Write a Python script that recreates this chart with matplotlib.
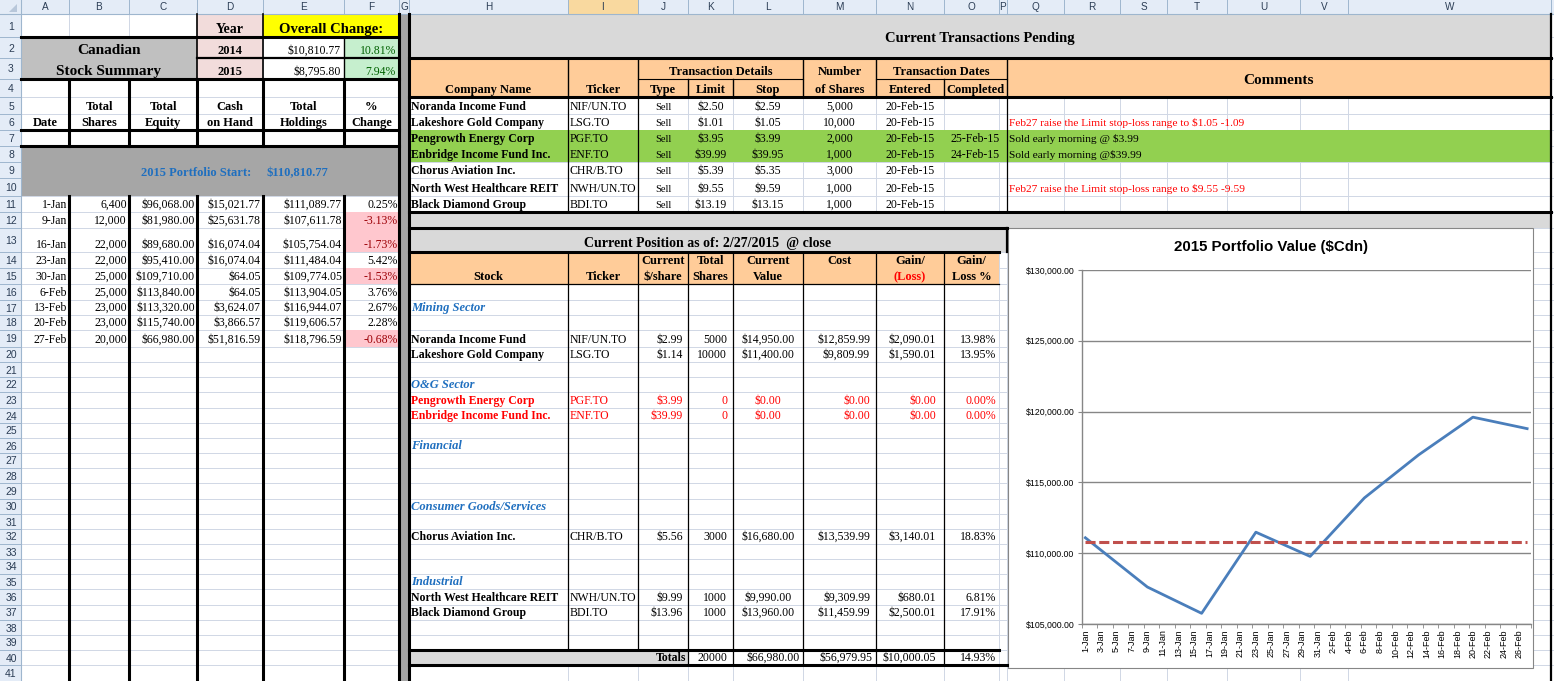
import pandas as pd
import matplotlib
matplotlib.use('Agg')
import matplotlib.pyplot as plt
import matplotlib.dates as mdates
from matplotlib.patches import Rectangle, Polygon
from matplotlib.ticker import MultipleLocator, FuncFormatter

# ---------------------------------------------------------------- data
week_dates = ['2015-01-01', '2015-01-09', '2015-01-16', '2015-01-23', '2015-01-30',
              '2015-02-06', '2015-02-13', '2015-02-20', '2015-02-27']
total_shares = [6400, 12000, 22000, 22000, 25000, 25000, 23000, 23000, 20000]
total_equity = [96068.00, 81980.00, 89680.00, 95410.00, 109710.00,
                113840.00, 113320.00, 115740.00, 66980.00]
cash_on_hand = [15021.77, 25631.78, 16074.04, 16074.04, 64.05,
                64.05, 3624.07, 3866.57, 51816.59]
total_holdings = [111089.77, 107611.78, 105754.04, 111484.04, 109774.05,
                  113904.05, 116944.07, 119606.57, 118796.59]
pct_change = [0.25, -3.13, -1.73, 5.42, -1.53, 3.76, 2.67, 2.28, -0.68]
portfolio_start = 110810.77

years = ['2014', '2015']
year_change = [10810.77, 8795.80]
year_change_pct = [10.81, 7.94]

trx_company = ['Noranda Income Fund', 'Lakeshore Gold Company', 'Pengrowth Energy Corp',
               'Enbridge Income Fund Inc.', 'Chorus Aviation Inc.',
               'North West Healthcare REIT', 'Black Diamond Group']
trx_ticker = ['NIF/UN.TO', 'LSG.TO', 'PGF.TO', 'ENF.TO', 'CHR/B.TO', 'NWH/UN.TO', 'BDI.TO']
trx_type = ['Sell', 'Sell', 'Sell', 'Sell', 'Sell', 'Sell', 'Sell']
trx_limit = [2.50, 1.01, 3.95, 39.99, 5.39, 9.55, 13.19]
trx_stop = [2.59, 1.05, 3.99, 39.95, 5.35, 9.59, 13.15]
trx_shares = [5000, 10000, 2000, 1000, 3000, 1000, 1000]
trx_entered = ['20-Feb-15', '20-Feb-15', '20-Feb-15', '20-Feb-15', '20-Feb-15',
               '20-Feb-15', '20-Feb-15']
trx_completed = ['', '', '25-Feb-15', '24-Feb-15', '', '', '']
trx_comment = ['', 'Feb27 raise the Limit stop-loss range to $1.05 -1.09',
               'Sold early morning @ $3.99', 'Sold early morning @$39.99', '',
               'Feb27 raise the Limit stop-loss range to $9.55 -9.59', '']

sectors = ['Mining Sector', 'O&G Sector', 'Financial', 'Consumer Goods/Services', 'Industrial']
pos_stock = ['Noranda Income Fund', 'Lakeshore Gold Company', 'Pengrowth Energy Corp',
             'Enbridge Income Fund Inc.', 'Chorus Aviation Inc.',
             'North West Healthcare REIT', 'Black Diamond Group']
pos_ticker = ['NIF/UN.TO', 'LSG.TO', 'PGF.TO', 'ENF.TO', 'CHR/B.TO', 'NWH/UN.TO', 'BDI.TO']
pos_price = [2.99, 1.14, 3.99, 39.99, 5.56, 9.99, 13.96]
pos_shares = [5000, 10000, 0, 0, 3000, 1000, 1000]
pos_value = [14950.00, 11400.00, 0.00, 0.00, 16680.00, 9990.00, 13960.00]
pos_cost = [12859.99, 9809.99, 0.00, 0.00, 13539.99, 9309.99, 11459.99]
pos_gain = [2090.01, 1590.01, 0.00, 0.00, 3140.01, 680.01, 2500.01]
pos_gain_pct = [13.98, 13.95, 0.00, 0.00, 18.83, 6.81, 17.91]

# ---------------------------------------------------------------- sheet layout (pixels)
W, H = 1554, 681
col_names = list('ABCDEFGHIJKLMNOPQRSTUVW')
col_x = [21, 69, 129, 197, 263, 344, 399, 409, 568, 638, 688, 733, 803, 876, 944,
         999, 1007, 1064, 1120, 1167, 1227, 1300, 1348, 1551]
row_y = [14, 37, 58, 79, 97, 114, 130, 146, 162, 178, 196, 212, 228, 252, 268, 284,
         300, 315, 330, 347, 362, 377, 392, 408, 423, 438, 453, 468, 483, 499, 514,
         529, 544, 559, 574, 589, 605, 620, 635, 650, 665, 681]
sector_row = [17, 22, 26, 30, 35]
pos_row = [19, 20, 23, 24, 32, 36, 37]

SERIF = 'Liberation Serif'
SANS = 'Liberation Sans'
GRID = '#D0D7E5'
ORANGE = '#FFCC99'
LGRAY = '#D9D9D9'
BLUE = '#1F6FBF'


def left(c):
    return col_x[col_names.index(c)]


def right(c):
    return col_x[col_names.index(c) + 1]


def top(r):
    return row_y[r - 1]


def bottom(r):
    return row_y[r]


def money(v):
    return f'${v:,.2f}'


fig = plt.figure(figsize=(W / 100, H / 100), dpi=100)
ax = fig.add_axes([0, 0, 1, 1])
ax.set_xlim(0, W)
ax.set_ylim(H, 0)
ax.axis('off')


def fill(x0, y0, x1, y1, color, z=2, ec='none'):
    ax.add_patch(Rectangle((x0, y0), x1 - x0, y1 - y0, facecolor=color,
                           edgecolor=ec, lw=0.8, zorder=z))


def hline(y, x0, x1, lw=2.2, color='black', z=4):
    ax.plot([x0, x1], [y, y], color=color, lw=lw, solid_capstyle='projecting', zorder=z)


def vline(x, y0, y1, lw=2.2, color='black', z=4):
    ax.plot([x, x], [y0, y1], color=color, lw=lw, solid_capstyle='projecting', zorder=z)


def put(text, c0, r0, c1=None, r1=None, ha='right', va='bottom', size=8.5,
        bold=False, italic=False, color='black', family=SERIF, pad=3, dy=0):
    x0, x1 = left(c0), right(c1 or c0)
    y0, y1 = top(r0), bottom(r1 or r0)
    if ha == 'left':
        x = x0 + pad
    elif ha == 'right':
        x = x1 - pad
    else:
        x = (x0 + x1) / 2
    if va == 'bottom':
        y, v = y1 - 4 + dy, 'baseline'
    else:
        y, v = (y0 + y1) / 2 + dy, 'center_baseline'
    ax.text(x, y, text, ha=ha, va=v, fontsize=size, color=color, family=family,
            fontweight='bold' if bold else 'normal',
            fontstyle='italic' if italic else 'normal', zorder=6)


# ---- headers (column letters / row numbers)
fill(0, 0, W, 14, '#E4ECF7', z=3)
fill(0, 14, 21, H, '#E4ECF7', z=3)
fill(left('I'), 0, right('I'), 14, '#F9D99F', z=3)
for x in col_x:
    vline(x, 0, 14, lw=0.7, color='#9EB6CE', z=3.5)
for y in row_y:
    hline(y, 0, 21, lw=0.7, color='#9EB6CE', z=3.5)
hline(14, 0, W, lw=0.8, color='#9EB6CE', z=3.5)
vline(21, 0, H, lw=0.8, color='#9EB6CE', z=3.5)
ax.add_patch(Polygon([[17, 4], [17, 12], [9, 12]], closed=True, facecolor='#B8C7DA',
                     edgecolor='none', zorder=3.6))
for i, c in enumerate(col_names):
    ax.text((col_x[i] + col_x[i + 1]) / 2, 7.5, c, ha='center', va='center',
            fontsize=7.2, color='#2B3D55', family=SANS, zorder=6)
for r in range(1, len(row_y)):
    ax.text(11, (row_y[r - 1] + row_y[r]) / 2 + 1, str(r), ha='center', va='center',
            fontsize=7.5, color='#2B3D55', family=SANS, zorder=6)

# ---- gridlines
for y in row_y:
    hline(y, 21, W, lw=0.7, color=GRID, z=1)
for x in col_x[1:] + [W]:
    vline(x, 14, H, lw=0.7, color=GRID, z=1)

# ---------------------------------------------------------------- left summary block
fill(left('A'), top(2), right('C'), bottom(3), '#C0C0C0')
fill(left('D'), top(1), right('D'), bottom(3), '#F2DCDB')
fill(left('E'), top(1), right('F'), bottom(1), '#FFFF00')
fill(left('F'), top(2), right('F'), bottom(3), '#C6EFCE')
fill(left('A'), top(8), right('F'), bottom(10), '#A6A6A6')
fill(left('G'), 14, right('G'), H, '#A5A5A5')

put('Year', 'D', 1, ha='center', size=10, bold=True)
put('Overall Change:', 'E', 1, 'F', ha='center', size=10.5, bold=True)
put('Canadian', 'A', 2, 'C', ha='center', size=11, bold=True)
put('Stock Summary', 'A', 3, 'C', ha='center', size=11, bold=True)
for i, yr in enumerate(years):
    put(yr, 'D', 2 + i, ha='center', size=9, bold=True)
    put(money(year_change[i]), 'E', 2 + i)
    put(f'{year_change_pct[i]:.2f}%', 'F', 2 + i, color='#006100')

for c, t1, t2 in [('A', '', 'Date'), ('B', 'Total', 'Shares'), ('C', 'Total', 'Equity'),
                  ('D', 'Cash', 'on Hand'), ('E', 'Total', 'Holdings'), ('F', '%', 'Change')]:
    put(t1, c, 5, ha='center', size=9, bold=True)
    put(t2, c, 6, ha='center', size=9, bold=True)

ax.text(196, 176, '2015 Portfolio Start:', ha='center', va='baseline', fontsize=9,
        fontweight='bold', color=BLUE, family=SERIF, zorder=6)
ax.text(297, 176, money(portfolio_start), ha='center', va='baseline', fontsize=9,
        fontweight='bold', color=BLUE, family=SERIF, zorder=6)

for i, d in enumerate(week_dates):
    r = 11 + i
    dt = pd.Timestamp(d)
    if pct_change[i] < 0:
        fill(left('F'), top(r), right('F'), bottom(r), '#FFC7CE')
    put(f'{dt.day}-{dt:%b}', 'A', r, pad=2)
    put(f'{total_shares[i]:,}', 'B', r, pad=2)
    put(money(total_equity[i]), 'C', r, pad=2)
    put(money(cash_on_hand[i]), 'D', r, pad=2)
    put(money(total_holdings[i]), 'E', r, pad=2)
    put(f'{pct_change[i]:.2f}%', 'F', r, pad=1,
        color='#9C0006' if pct_change[i] < 0 else 'black')

# borders of the left block
hline(top(2), 21, 399)
hline(top(3), left('D'), 399, lw=1.6)
hline(bottom(3), 21, 399)
vline(left('D'), 14, bottom(3), lw=1.2)
vline(left('E'), 14, bottom(3), lw=1.2)
vline(left('F'), top(2), bottom(3), lw=1.0)
hline(bottom(6), 21, 399)
hline(bottom(7), 21, 399)
for c in 'BCDEF':
    vline(left(c), bottom(3), bottom(7))
    vline(left(c), top(11), H)
vline(399, 14, H)

# ---------------------------------------------------------------- transactions block
fill(409, top(1), 1551, bottom(2), LGRAY)
fill(409, top(3), 1551, bottom(4), ORANGE)
fill(409, top(7), 1551, bottom(8), '#92D050')
fill(409, top(12), 1551, bottom(12), LGRAY)

put('Current Transactions Pending', 'H', 1, 'W', 2, ha='center', va='center',
    size=10.5, bold=True, dy=1)
put('Company Name', 'H', 4, ha='center', size=9, bold=True)
put('Ticker', 'I', 4, ha='center', size=9, bold=True)
put('Transaction Details', 'J', 3, 'L', ha='center', size=9, bold=True)
put('Type', 'J', 4, ha='center', size=9, bold=True)
put('Limit', 'K', 4, ha='center', size=9, bold=True)
put('Stop', 'L', 4, ha='center', size=9, bold=True)
put('Number', 'M', 3, ha='center', size=9, bold=True)
put('of Shares', 'M', 4, ha='center', size=9, bold=True)
put('Transaction Dates', 'N', 3, 'P', ha='center', size=9, bold=True)
put('Entered', 'N', 4, ha='center', size=9, bold=True)
put('Completed', 'O', 4, 'P', ha='center', size=9, bold=True)
put('Comments', 'Q', 3, 'W', 4, ha='center', va='center', size=11, bold=True, dy=1)

for i, name in enumerate(trx_company):
    r = 5 + i
    put(name, 'H', r, ha='left', bold=True, pad=2)
    put(trx_ticker[i], 'I', r, ha='left', pad=2)
    put(trx_type[i], 'J', r, ha='center', size=7.5)
    put(money(trx_limit[i]), 'K', r, ha='center')
    put(money(trx_stop[i]), 'L', r, ha='center')
    put(f'{trx_shares[i]:,}', 'M', r, ha='center')
    put(trx_entered[i], 'N', r, ha='center')
    put(trx_completed[i], 'O', r, 'P', ha='center')
    put(trx_comment[i], 'Q', r, ha='left', pad=2, size=8.2,
        color='black' if trx_completed[i] else '#FF0000')

hline(top(3), 409, 1551)
hline(bottom(4), 409, 1551)
hline(bottom(11), 409, 1551)
hline(top(4), left('J'), right('L'), lw=0.8)
hline(top(4), left('N'), right('P'), lw=0.8)
for c in 'IJMNQ':
    vline(left(c), top(3), bottom(4), lw=1.0)
for c in 'KLO':
    vline(left(c), top(4), bottom(4), lw=1.0)
for c in 'IJQ':
    vline(left(c), bottom(4), bottom(11), lw=0.9)
vline(409, 14, H)
vline(1551, 14, H, lw=1.6)

# ---------------------------------------------------------------- current position block
fill(409, top(13), right('P'), bottom(13), LGRAY)
fill(409, top(14), right('O'), bottom(15), ORANGE)
fill(409, top(40), right('J'), bottom(40), LGRAY)

put('Current Position as of: 2/27/2015  @ close', 'H', 13, 'P', ha='center',
    size=10, bold=True, dy=-1)
put('Stock', 'H', 15, ha='center', size=9, bold=True)
put('Ticker', 'I', 15, ha='center', size=9, bold=True)
for c, t1, t2 in [('J', 'Current', '$/share'), ('K', 'Total', 'Shares'),
                  ('L', 'Current', 'Value'), ('M', 'Cost', ''), ('N', 'Gain/', ''),
                  ('O', 'Gain/', 'Loss %')]:
    put(t1, c, 14, ha='center', size=9, bold=True)
    put(t2, c, 15, ha='center', size=9, bold=True)
put('(Loss)', 'N', 15, ha='center', size=9, bold=True, color='#FF0000')

for s, r in zip(sectors, sector_row):
    put(s, 'H', r, ha='left', italic=True, bold=True, size=9, color=BLUE, pad=2)

for i, r in enumerate(pos_row):
    col = '#FF0000' if pos_shares[i] == 0 else 'black'
    put(pos_stock[i], 'H', r, ha='left', bold=True, color=col, pad=2)
    put(pos_ticker[i], 'I', r, ha='left', color=col, pad=2)
    put(money(pos_price[i]), 'J', r, color=col, pad=5)
    put(str(pos_shares[i]), 'K', r, color=col, pad=6)
    put(money(pos_value[i]), 'L', r, ha='center', color=col)
    put(money(pos_cost[i]), 'M', r, color=col, pad=6)
    put(money(pos_gain[i]), 'N', r, color=col, pad=8)
    put(f'{pos_gain_pct[i]:.2f}%', 'O', r, color=col, pad=3)

tot_value = sum(pos_value)
tot_gain = sum(pos_gain)
put('Totals', 'H', 40, 'J', bold=True, pad=2)
put(str(sum(pos_shares)), 'K', 40, pad=6)
put(money(tot_value), 'L', 40, pad=3)
put(money(sum(pos_cost)), 'M', 40, pad=3)
put(money(tot_gain), 'N', 40, pad=8)
put(f'{100 * tot_gain / tot_value:.2f}%', 'O', 40, pad=3)

hline(top(13), 409, right('P'))
vline(right('P'), top(13), bottom(13), lw=1.6)
hline(top(14), 409, right('O'))
hline(bottom(15), 409, right('O'), lw=0.9)
for c in 'IJKLMNO':
    vline(left(c), top(14), bottom(39), lw=0.9)
for c in 'KLMNO':
    vline(left(c), top(40), bottom(40), lw=0.9)
hline(top(40), 409, right('O'))
hline(bottom(40), 409, right('P'))

# ---------------------------------------------------------------- chart
fill(1008, 228, 1533, 668, 'white', z=3, ec='#868686')
ax.text(1271, 247, '2015 Portfolio Value ($Cdn)', ha='center', va='center',
        fontsize=10.8, fontweight='bold', family=SANS, zorder=6)

px0, px1, py0, py1 = 1081.5, 1531, 270, 624
cax = fig.add_axes([px0 / W, 1 - py1 / H, (px1 - px0) / W, (py1 - py0) / H])
cax.set_facecolor('none')
dts = pd.to_datetime(week_dates)
cax.plot(dts, total_holdings, color='#4A7EBB', lw=2, zorder=3)
cax.plot([dts[0], dts[-1]], [portfolio_start, portfolio_start], color='#C0504D',
         lw=2.2, dashes=(3.3, 1.2), zorder=3)
d0, d1 = mdates.date2num(dts[0]), mdates.date2num(dts[-1])
cax.set_xlim(d0 - 0.5, d1 + 0.5)
cax.set_ylim(105000, 130000)
cax.yaxis.set_major_locator(MultipleLocator(5000))
cax.yaxis.set_major_formatter(FuncFormatter(lambda v, p: f'${v:,.2f}'))
cax.grid(axis='y', color='#868686', lw=1)
cax.set_axisbelow(True)
cax.xaxis.set_major_locator(MultipleLocator(2))
cax.xaxis.set_minor_locator(MultipleLocator(2, offset=-0.5))


def day_label(v, p):
    d = mdates.num2date(v)
    return f'{d.day}-{d:%b}'


cax.xaxis.set_major_formatter(FuncFormatter(day_label))
for sp in ['top', 'right']:
    cax.spines[sp].set_visible(False)
for sp in ['left', 'bottom']:
    cax.spines[sp].set_color('#868686')
    cax.spines[sp].set_linewidth(1)
cax.tick_params(axis='x', which='major', length=0, pad=4, labelsize=6.5,
                labelrotation=90, labelfontfamily=SANS)
cax.tick_params(axis='x', which='minor', length=3, direction='out', color='#868686')
cax.tick_params(axis='y', length=3, direction='out', color='#868686', pad=2,
                labelsize=6.3, labelfontfamily=SANS)

fig.savefig('out.png', dpi=100)
